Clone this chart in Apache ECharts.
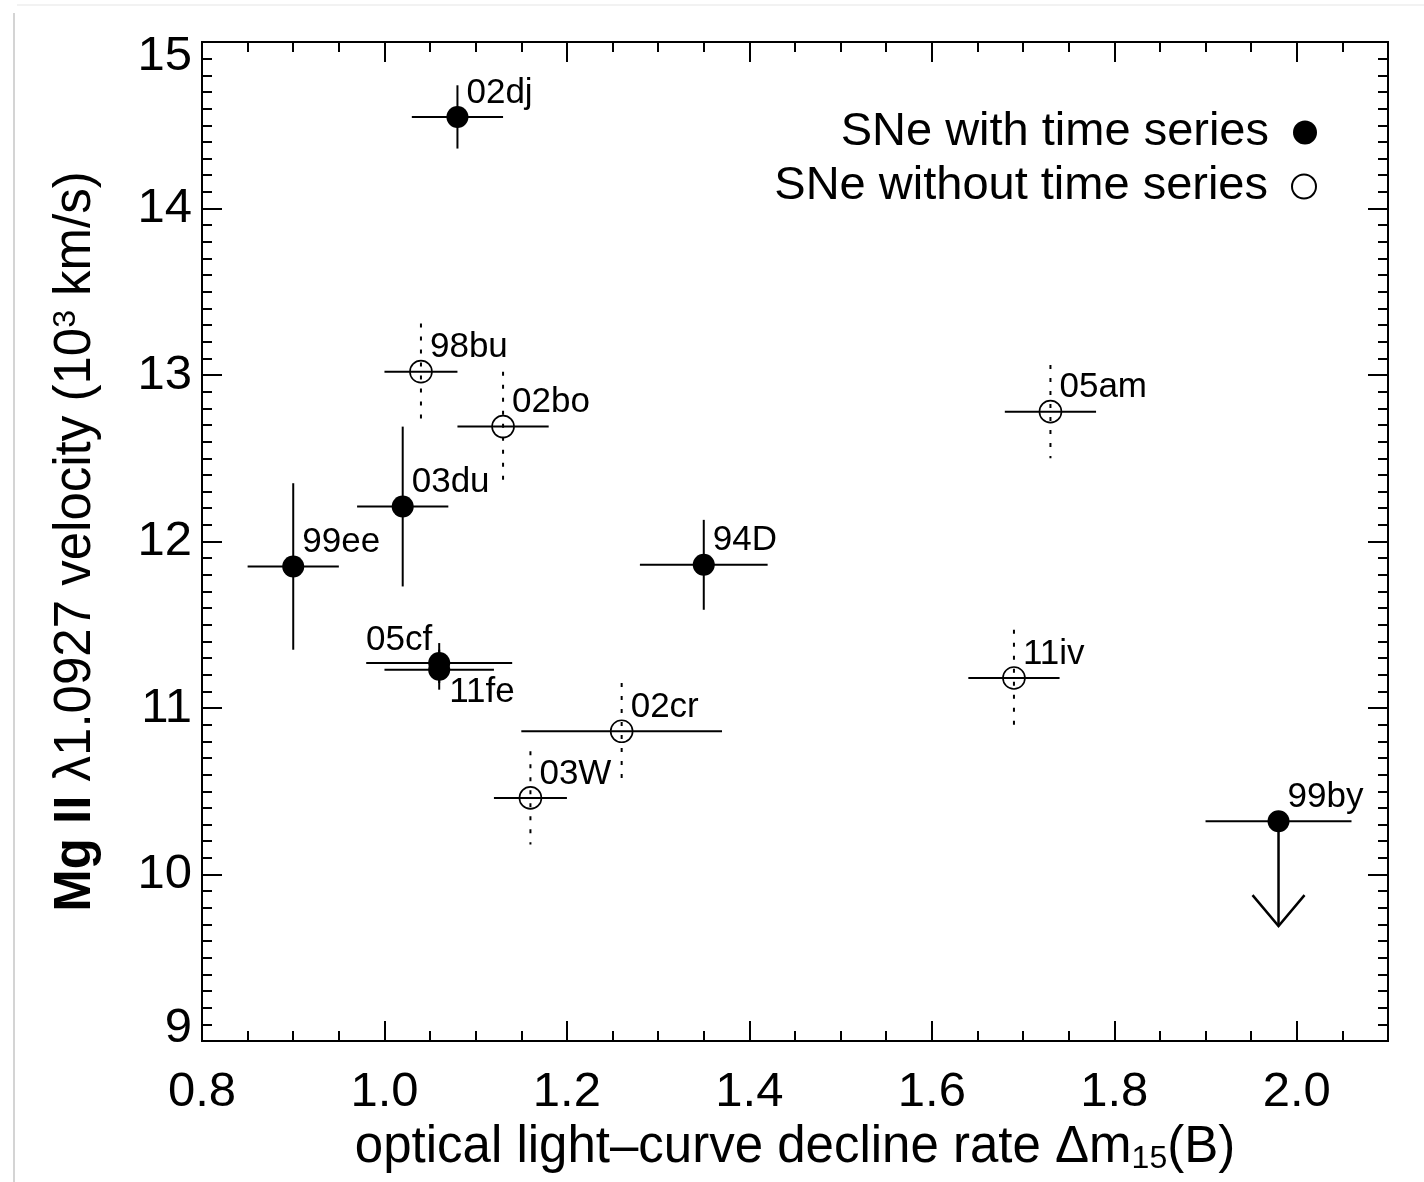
<!DOCTYPE html>
<html>
<head>
<meta charset="utf-8">
<script src="https://cdn.jsdelivr.net/npm/echarts@6/dist/echarts.min.js"></script>
<style>
html,body{margin:0;padding:0;background:#fff;}
#chart{width:1424px;height:1182px;}
</style>
</head>
<body>
<div id="chart"></div>
<script>
// ---- data: SNe with time series (filled) ----
const tsNames = ['02dj', '03du', '99ee', '94D', '05cf', '11fe', '99by'];
const tsX     = [1.08, 1.02, 0.90, 1.35, 1.06, 1.06, 1.98];
const tsY     = [14.55, 12.21, 11.85, 11.86, 11.27, 11.23, 10.32];
const tsXErr  = [0.05, 0.05, 0.05, 0.07, 0.08, 0.06, 0.08];
const tsYErr  = [0.19, 0.48, 0.50, 0.27, 0.12, 0.12, 0];
const tsLabelSide = ['tr', 'tr', 'tr', 'tr', 'tl', 'br', 'tr'];

// upper limit (arrow) for 99by
const limitNames = ['99by'];
const limitX     = [1.98];
const limitY     = [10.32];
const limitTip   = [9.69];

// ---- data: SNe without time series (open) ----
const ntsNames = ['98bu', '02bo', '05am', '11iv', '02cr', '03W'];
const ntsX     = [1.04, 1.13, 1.73, 1.69, 1.26, 1.16];
const ntsY     = [13.02, 12.69, 12.78, 11.18, 10.86, 10.46];
const ntsXErr  = [0.04, 0.05, 0.05, 0.05, 0.11, 0.04];
const ntsYErr  = [0.29, 0.33, 0.28, 0.29, 0.29, 0.28];
const ntsLabelSide = ['tr', 'tr', 'tr', 'tr', 'tr', 'tr'];

// ---- axes ----
const xMin = 0.8, xMax = 2.1, xMajor = 0.2, xMinor = 0.05;
const yMin = 9, yMax = 15, yMajor = 1, yMinor = 0.1;

const FONT = '"Liberation Sans", Arial, Helvetica, sans-serif';

const sideStyle = {
  tr: { align: 'left',  offset: [9, -24] },
  tl: { align: 'right', offset: [-7, -23] },
  br: { align: 'left',  offset: [10, 23] }
};

function scatterData(names, xs, ys, sides) {
  return names.map((n, i) => ({
    name: n,
    value: [xs[i], ys[i]],
    label: { align: sideStyle[sides[i]].align, offset: sideStyle[sides[i]].offset }
  }));
}
function errData(xs, ys, xe, ye) {
  return xs.map((x, i) => [x, ys[i], xe[i], ye[i]]);
}
function errRender(dotted) {
  return function (params, api) {
    const x = api.value(0), y = api.value(1), xe = api.value(2), ye = api.value(3);
    const l = api.coord([x - xe, y]), r = api.coord([x + xe, y]);
    const children = [{
      type: 'line', shape: { x1: l[0], y1: l[1], x2: r[0], y2: r[1] },
      style: { stroke: '#000', lineWidth: 2 }
    }];
    if (ye > 0) {
      const t = api.coord([x, y + ye]), b = api.coord([x, y - ye]);
      children.push({
        type: 'line', shape: { x1: t[0], y1: t[1], x2: b[0], y2: b[1] },
        style: { stroke: '#000', lineWidth: 2, lineDash: dotted ? [4, 9] : null }
      });
    }
    return { type: 'group', children };
  };
}
function arrowRender(params, api) {
  const x = api.value(0), y = api.value(1), tip = api.value(2);
  const p = api.coord([x, y]), q = api.coord([x, tip]);
  return {
    type: 'group',
    children: [
      { type: 'line', shape: { x1: p[0], y1: p[1], x2: q[0], y2: q[1] }, style: { stroke: '#000', lineWidth: 2.5 } },
      { type: 'polyline', shape: { points: [[q[0] - 26, q[1] - 31], [q[0], q[1]], [q[0] + 26, q[1] - 31]] },
        style: { stroke: '#000', lineWidth: 2.5, fill: null } }
    ]
  };
}

function xAxisDef(pos, interval, tickLen, showLabel, withName) {
  const a = {
    type: 'value', min: xMin, max: xMax, interval: interval, position: pos, gridIndex: 0,
    axisLine: { show: true, onZero: false, lineStyle: { color: '#000', width: 2 } },
    axisTick: { show: true, inside: true, length: tickLen, lineStyle: { color: '#000', width: 2 } },
    axisLabel: {
      show: showLabel, margin: 27, fontSize: 49, color: '#000', fontFamily: FONT,
      showMaxLabel: false, formatter: v => v.toFixed(1)
    },
    splitLine: { show: false }
  };
  if (withName) {
    a.name = 'optical light\u2013curve decline rate \u0394m{sub|15}(B)';
    a.nameLocation = 'middle';
    a.nameGap = 80;
    a.nameTextStyle = {
      fontSize: 51, color: '#000', fontFamily: FONT,
      rich: { sub: { fontSize: 32, fontFamily: FONT, color: '#000', verticalAlign: 'bottom', padding: [22, 0, 0, 0] } }
    };
  }
  return a;
}
function yTickFormatter(v) {
  if (v === yMax) return '{hi|' + v + '}';
  if (v === yMin) return '{lo|' + v + '}';
  return '' + v;
}
function yAxisDef(pos, interval, tickLen, showLabel, withName) {
  const a = {
    type: 'value', min: yMin, max: yMax, interval: interval, position: pos, gridIndex: 0,
    axisLine: { show: true, onZero: false, lineStyle: { color: '#000', width: 2 } },
    axisTick: { show: true, inside: true, length: tickLen, lineStyle: { color: '#000', width: 2 } },
    axisLabel: {
      show: showLabel, margin: 10, fontSize: 49, color: '#000', fontFamily: FONT,
      formatter: yTickFormatter,
      rich: {
        hi: { fontSize: 49, fontFamily: FONT, color: '#000', padding: [28, 0, 0, 0] },
        lo: { fontSize: 49, fontFamily: FONT, color: '#000', padding: [0, 0, 26, 0] }
      }
    },
    splitLine: { show: false }
  };
  if (withName) {
    a.name = '{b|Mg II} \u03bb1.0927 velocity (10{sup|3} km/s)';
    a.nameLocation = 'middle';
    a.nameGap = 100;
    a.nameRotate = 90;
    a.nameTextStyle = {
      fontSize: 51, color: '#000', fontFamily: FONT,
      rich: {
        b: { fontSize: 51, fontWeight: 'bold', fontFamily: FONT, color: '#000' },
        sup: { fontSize: 32, fontFamily: FONT, color: '#000', verticalAlign: 'top', padding: [0, 0, 20, 0] }
      }
    };
  }
  return a;
}

const legendCommon = {
  right: 107, padding: 0, align: 'right', orient: 'vertical',
  itemWidth: 62, itemHeight: 24, selectedMode: false,
  textStyle: { fontSize: 47, color: '#000', fontFamily: FONT }
};

const chart = echarts.init(document.getElementById('chart'), null, { renderer: 'canvas' });
chart.setOption({
  animation: false,
  backgroundColor: '#fff',
  grid: { left: 202, top: 42, right: 36, bottom: 141, containLabel: false },
  xAxis: [
    xAxisDef('bottom', xMajor, 20, true, true),
    xAxisDef('bottom', xMinor, 10, false, false),
    xAxisDef('top', xMajor, 20, false, false),
    xAxisDef('top', xMinor, 10, false, false)
  ],
  yAxis: [
    yAxisDef('left', yMajor, 20, true, true),
    yAxisDef('left', yMinor, 10, false, false),
    yAxisDef('right', yMajor, 20, false, false),
    yAxisDef('right', yMinor, 10, false, false)
  ],
  legend: [
    Object.assign({ data: [{ name: 'SNe with time series', icon: 'circle' }], top: 109 }, legendCommon),
    Object.assign({ data: [{ name: 'SNe without time series', icon: 'circle' }], top: 163 }, legendCommon)
  ],
  graphic: [
    { type: 'line', shape: { x1: 14, y1: 13, x2: 14, y2: 1182 }, style: { stroke: '#d4d4d4', lineWidth: 2 }, silent: true },
    { type: 'line', shape: { x1: 17, y1: 5, x2: 1424, y2: 5 }, style: { stroke: '#f2f2f2', lineWidth: 2 }, silent: true }
  ],
  series: [
    {
      type: 'custom', name: 'errTS', xAxisIndex: 0, yAxisIndex: 0, z: 2,
      renderItem: errRender(false), data: errData(tsX, tsY, tsXErr, tsYErr), silent: true
    },
    {
      type: 'custom', name: 'errNTS', xAxisIndex: 0, yAxisIndex: 0, z: 2,
      renderItem: errRender(true), data: errData(ntsX, ntsY, ntsXErr, ntsYErr), silent: true
    },
    {
      type: 'custom', name: 'limit', xAxisIndex: 0, yAxisIndex: 0, z: 2,
      renderItem: arrowRender, data: limitX.map((x, i) => [x, limitY[i], limitTip[i]]), silent: true
    },
    {
      type: 'scatter', name: 'SNe with time series', xAxisIndex: 0, yAxisIndex: 0, z: 3,
      symbol: 'circle', symbolSize: 22,
      itemStyle: { color: '#000', opacity: 1 },
      label: { show: true, position: 'inside', formatter: '{b}', fontSize: 35, color: '#000', fontFamily: FONT },
      emphasis: { disabled: true },
      data: scatterData(tsNames, tsX, tsY, tsLabelSide)
    },
    {
      type: 'scatter', name: 'SNe without time series', xAxisIndex: 0, yAxisIndex: 0, z: 3,
      symbol: 'circle', symbolSize: 22,
      itemStyle: { color: 'rgba(0,0,0,0)', borderColor: '#000', borderWidth: 1.6, opacity: 1 },
      label: { show: true, position: 'inside', formatter: '{b}', fontSize: 35, color: '#000', fontFamily: FONT },
      emphasis: { disabled: true },
      data: scatterData(ntsNames, ntsX, ntsY, ntsLabelSide)
    }
  ]
});
</script>
</body>
</html>
